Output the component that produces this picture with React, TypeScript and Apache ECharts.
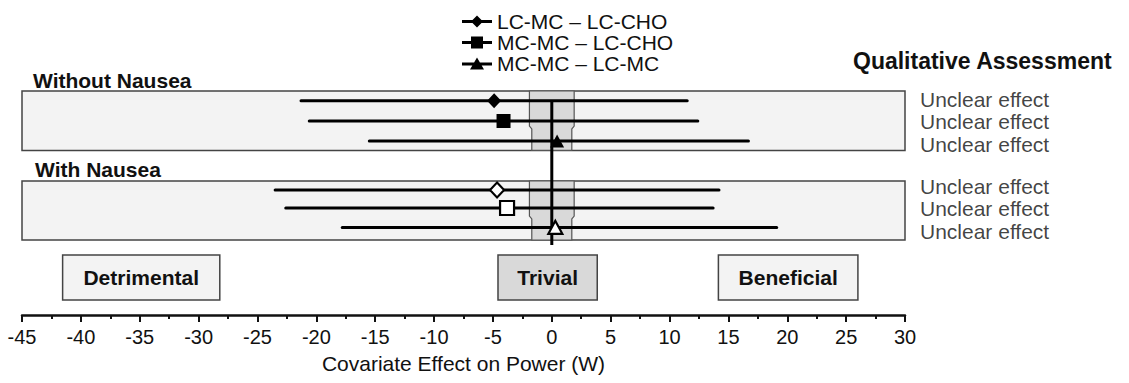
import React, { useEffect, useRef } from "react";
import * as echarts from "echarts";

// ---------- data ----------
const comparisons = ["LC-MC – LC-CHO", "MC-MC – LC-CHO", "MC-MC – LC-MC"];
const withoutEst = [-4.9, -4.1, 0.45];
const withoutLow = [-21.3, -20.6, -15.5];
const withoutHigh = [11.5, 12.4, 16.7];
const withEst = [-4.65, -3.8, 0.3];
const withLow = [-23.5, -22.6, -17.8];
const withHigh = [14.2, 13.7, 19.1];
const assessments = [
  "Unclear effect",
  "Unclear effect",
  "Unclear effect",
  "Unclear effect",
  "Unclear effect",
  "Unclear effect",
];
const panelNames = ["Without Nausea", "With Nausea"];
const zoneNames = ["Detrimental", "Trivial", "Beneficial"];
const zoneStart = [-41.55, -4.57, 14.15];
const zoneEnd = [-28.2, 3.86, 26.0];
const trivialOuter = 1.9;
const trivialInner = 1.7;
const xMin = -45;
const xMax = 30;
const xInterval = 5;
const axisTitle = "Covariate Effect on Power (W)";
const assessmentTitle = "Qualitative Assessment";

// ---------- layout ----------
const FONT = "'Liberation Sans', Arial, Helvetica, sans-serif";
const INK = "#111";
const rowsWithout = [0.49, 1.5, 2.5];
const rowsWith = [4.95, 5.85, 6.82];
const panelTop = [0, 4.5];
const panelBottom = [2.97, 7.45];
const panelStep = [1.75, 6.25];
const assessmentRows = [0.4, 1.5, 2.65, 4.75, 5.85, 7.0];
const zoneTop = 8.2;
const zoneBottom = 10.45;
const zeroLineSpan = [0.55, 7.7];
const symbols = ["diamond", "rect", "triangle"];
const symbolSizes = [
  [14, 15],
  [14, 14],
  [14, 13],
];
const legendIcons = [
  "path://M0,4.5L30,4.5L30,7.5L0,7.5Z M15,0L21,6L15,12L9,6Z",
  "path://M0,4.5L30,4.5L30,7.5L0,7.5Z M9,0L21,0L21,12L9,12Z",
  "path://M0,5L30,5L30,8L0,8Z M15,0L22,12L8,12Z",
];

export default function App() {
  const ref = useRef<HTMLDivElement>(null);

  useEffect(() => {
    document.body.style.margin = "0";
    if (!ref.current) return;
    const chart = echarts.init(ref.current, undefined, { renderer: "svg" });

    const ciData: number[][] = [];
    comparisons.forEach((_, i) => ciData.push([withoutLow[i], withoutHigh[i], rowsWithout[i]]));
    comparisons.forEach((_, i) => ciData.push([withLow[i], withHigh[i], rowsWith[i]]));

    const markerSeries = comparisons.map((name, i) => ({
      name,
      type: "scatter",
      z: 6,
      symbol: symbols[i],
      symbolSize: symbolSizes[i],
      itemStyle: { color: "#000", borderColor: "#000", borderWidth: 0, opacity: 1 },
      clip: false,
      data: [
        { value: [withoutEst[i], rowsWithout[i]] },
        {
          value: [withEst[i], rowsWith[i]],
          itemStyle: { color: "#fff", borderColor: "#000", borderWidth: 2.2 },
        },
      ],
    }));

    const option: any = {
      animation: false,
      backgroundColor: "#fff",
      textStyle: { fontFamily: FONT, color: INK },
      grid: { left: 22, right: 224, top: 91, bottom: 68 },
      legend: {
        orient: "vertical",
        left: 462,
        top: 11,
        padding: 0,
        itemWidth: 30,
        itemHeight: 12,
        itemGap: 0,
        selectedMode: false,
        textStyle: { fontSize: 21, color: INK, fontFamily: FONT, lineHeight: 19, padding: [0, 0, 0, 0] },
        itemStyle: { color: "#000", borderWidth: 0 },
        data: comparisons.map((name, i) => ({ name, icon: legendIcons[i] })),
      },
      xAxis: {
        type: "value",
        min: xMin,
        max: xMax,
        interval: xInterval,
        axisLine: { show: true, onZero: false, lineStyle: { color: INK, width: 2.5 } },
        axisTick: { show: true, length: 7, lineStyle: { color: INK, width: 2 } },
        minorTick: { show: true, splitNumber: 2, length: 4, lineStyle: { color: INK, width: 2 } },
        splitLine: { show: false },
        axisLabel: { fontSize: 20, color: INK, margin: 12, fontFamily: FONT },
        name: axisTitle,
        nameLocation: "middle",
        nameGap: 38,
        nameTextStyle: { fontSize: 21, color: INK, fontFamily: FONT },
      },
      yAxis: {
        type: "value",
        inverse: true,
        min: 0,
        max: 11.2,
        show: false,
      },
      graphic: [
        {
          type: "text",
          x: 33,
          y: 80,
          style: { text: panelNames[0], fontSize: 21, fontWeight: "bold", fontFamily: FONT, fill: INK, verticalAlign: "middle" },
        },
        {
          type: "text",
          x: 35,
          y: 169,
          style: { text: panelNames[1], fontSize: 21, fontWeight: "bold", fontFamily: FONT, fill: INK, verticalAlign: "middle" },
        },
        {
          type: "text",
          x: 853,
          y: 61,
          style: { text: assessmentTitle, fontSize: 23, fontWeight: "bold", fontFamily: FONT, fill: INK, verticalAlign: "middle" },
        },
      ],
      series: [
        {
          name: "panels",
          type: "scatter",
          z: 1,
          data: [],
          silent: true,
          markArea: {
            silent: true,
            itemStyle: { color: "#f3f3f3", borderColor: "#444", borderWidth: 1.5 },
            label: { show: false },
            data: panelNames.map((_, p) => [
              { coord: [xMin, panelTop[p]] },
              { coord: [xMax, panelBottom[p]] },
            ]),
          },
        },
        {
          name: "zones",
          type: "scatter",
          z: 1,
          data: [],
          silent: true,
          markArea: {
            silent: true,
            label: {
              show: true,
              position: "inside",
              fontSize: 21,
              fontWeight: "bold",
              color: INK,
              fontFamily: FONT,
            },
            data: zoneNames.map((name, k) => [
              {
                name,
                coord: [zoneStart[k], zoneTop],
                itemStyle: {
                  color: k === 1 ? "#d9d9d9" : "#f3f3f3",
                  borderColor: "#444",
                  borderWidth: 1.5,
                },
              },
              { coord: [zoneEnd[k], zoneBottom] },
            ]),
          },
        },
        {
          name: "trivial",
          type: "custom",
          z: 2,
          silent: true,
          clip: false,
          encode: { x: 0, y: [1, 2, 3] },
          data: panelNames.map((_, p) => [0, panelTop[p], panelStep[p], panelBottom[p]]),
          renderItem: (params: any, api: any) => {
            const t = api.value(1);
            const s = api.value(2);
            const b = api.value(3);
            const o = trivialOuter;
            const n = trivialInner;
            const pts = [
              [-o, t],
              [o, t],
              [o, s],
              [n, s + 0.15],
              [n, b],
              [-n, b],
              [-n, s + 0.15],
              [-o, s],
            ].map((p) => api.coord(p));
            return {
              type: "polygon",
              shape: { points: pts },
              style: { fill: "#d9d9d9", stroke: "#555", lineWidth: 1.2 },
            };
          },
        },
        {
          name: "ci",
          type: "custom",
          z: 3,
          silent: true,
          clip: false,
          encode: { x: [0, 1], y: 2 },
          data: ciData,
          renderItem: (params: any, api: any) => {
            const a = api.coord([api.value(0), api.value(2)]);
            const b = api.coord([api.value(1), api.value(2)]);
            return {
              type: "line",
              shape: { x1: a[0], y1: a[1], x2: b[0], y2: b[1] },
              style: { stroke: "#000", lineWidth: 3, lineCap: "round" },
            };
          },
        },
        {
          name: "zero",
          type: "line",
          z: 4,
          silent: true,
          symbol: "none",
          lineStyle: { color: "#000", width: 3 },
          data: [
            [0, zeroLineSpan[0]],
            [0, zeroLineSpan[1]],
          ],
        },
        ...markerSeries,
        {
          name: "assessment",
          type: "scatter",
          z: 5,
          silent: true,
          clip: false,
          symbolSize: 0,
          data: assessmentRows.map((r) => [xMax, r]),
          label: {
            show: true,
            position: "right",
            distance: 15,
            fontSize: 21,
            color: INK,
            fontFamily: FONT,
            formatter: (p: any) => assessments[p.dataIndex],
          },
        },
      ],
    };

    chart.setOption(option);
    return () => chart.dispose();
  }, []);

  return <div ref={ref} style={{ width: 1129, height: 383 }} />;
}
